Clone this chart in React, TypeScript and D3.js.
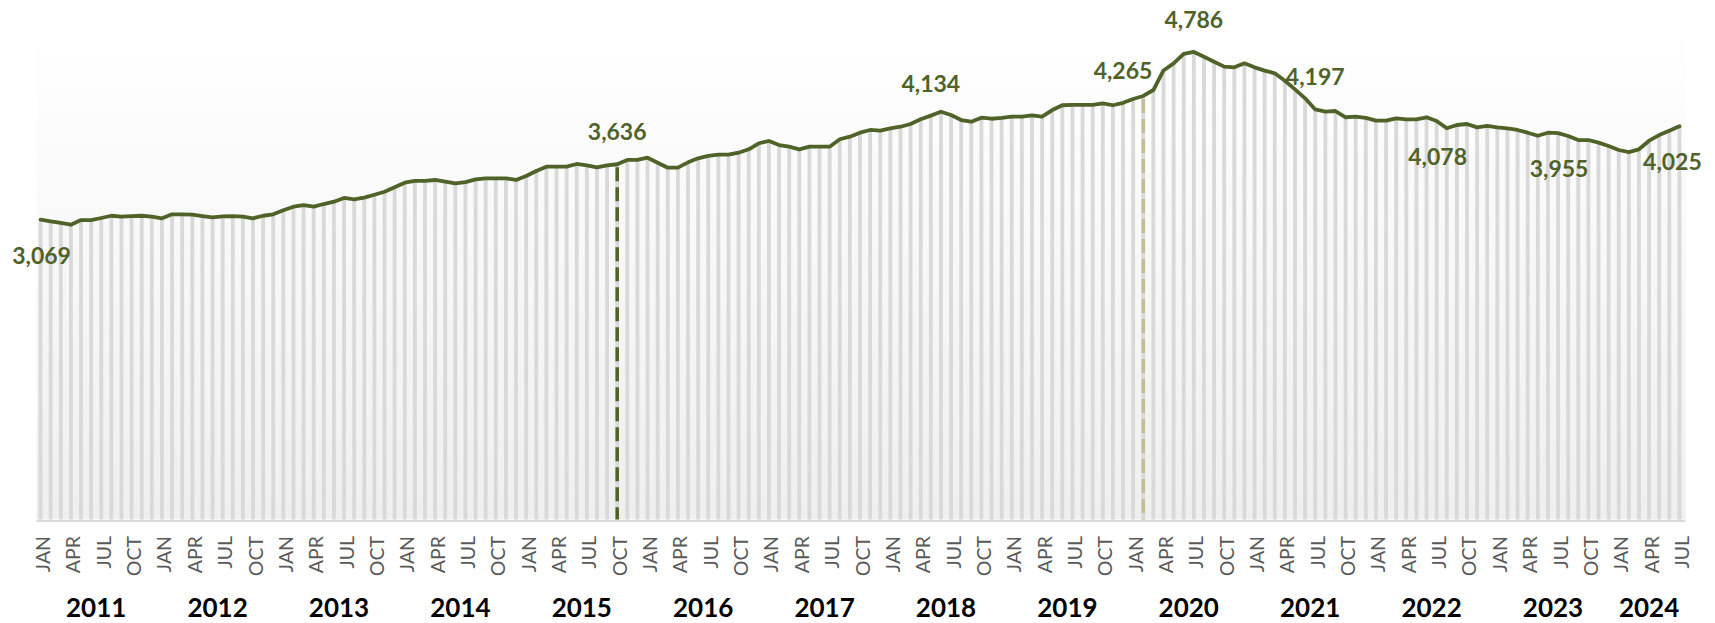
import React from "react";
import * as d3 from "d3";

// ---- Data (monthly, JAN 2011 .. JUL 2024) ----
const years = [2011, 2012, 2013, 2014, 2015, 2016, 2017, 2018, 2019, 2020, 2021, 2022, 2023, 2024];
const monthNames = ["JAN", "FEB", "MAR", "APR", "MAY", "JUN", "JUL", "AUG", "SEP", "OCT", "NOV", "DEC"];
const tickMonths = ["JAN", "APR", "JUL", "OCT"];

const values2011 = [3069, 3052, 3035, 3017, 3065, 3065, 3086, 3109, 3099, 3106, 3109, 3099];
const values2012 = [3083, 3124, 3124, 3120, 3106, 3093, 3103, 3106, 3099, 3083, 3109, 3124];
const values2013 = [3165, 3202, 3219, 3202, 3229, 3253, 3291, 3277, 3294, 3324, 3355, 3400];
const values2014 = [3447, 3465, 3465, 3475, 3458, 3441, 3454, 3482, 3492, 3492, 3492, 3475];
const values2015 = [3516, 3567, 3611, 3611, 3611, 3639, 3625, 3605, 3625, 3636, 3680, 3680];
const values2016 = [3703, 3652, 3601, 3601, 3656, 3697, 3721, 3734, 3734, 3754, 3789, 3851];
const values2017 = [3874, 3833, 3816, 3789, 3816, 3816, 3816, 3892, 3918, 3959, 3987, 3980];
const values2018 = [4004, 4020, 4048, 4096, 4134, 4174, 4140, 4089, 4072, 4113, 4102, 4110];
const values2019 = [4123, 4123, 4137, 4123, 4191, 4240, 4243, 4243, 4243, 4260, 4240, 4265];
const values2020 = [4304, 4335, 4396, 4596, 4669, 4765, 4786, 4737, 4686, 4635, 4628, 4669];
const values2021 = [4628, 4594, 4567, 4491, 4403, 4311, 4197, 4174, 4181, 4117, 4123, 4110];
const values2022 = [4082, 4082, 4106, 4096, 4096, 4117, 4078, 4004, 4038, 4048, 4014, 4028];
const values2023 = [4014, 4004, 3987, 3959, 3928, 3959, 3955, 3925, 3884, 3884, 3857, 3823];
const values2024 = [3782, 3761, 3789, 3877, 3935, 3980, 4025];

const values = [
  ...values2011, ...values2012, ...values2013, ...values2014, ...values2015,
  ...values2016, ...values2017, ...values2018, ...values2019, ...values2020,
  ...values2021, ...values2022, ...values2023, ...values2024,
];

const categories = values.map((_, i) => ({
  year: years[Math.floor(i / 12)],
  month: monthNames[i % 12],
}));

// labelled points: above the line / below the line
const labelsAbove = [57, 88, 107, 114, 126];
const labelsBelow = [0, 138, 150, 162];
// reference dashed markers
const markerGreen = 57; // OCT 2015
const markerTan = 109; // FEB 2020

const yMax = 5000;

export default function App() {
  const W = 1715;
  const H = 623;
  const plotLeft = 35.5;
  const plotRight = 1684.5;
  const plotTop = 31;
  const plotBottom = 519.5;

  const x = d3
    .scaleBand<number>()
    .domain(d3.range(values.length))
    .range([plotLeft, plotRight])
    .paddingInner(0.62)
    .paddingOuter(0.31);
  const bw = x.bandwidth();
  const cx = (i: number) => (x(i) as number) + bw / 2;
  const y = d3.scaleLinear().domain([0, yMax]).range([plotBottom, plotTop]);

  const line = d3
    .line<number>()
    .x((_, i) => cx(i))
    .y((v) => y(v))
    .curve(d3.curveLinear);

  const fmt = d3.format(",");
  const green = "#4f6228";
  const tan = "#c4bd97";
  const font = "Lato, 'Open Sans', sans-serif";

  return (
    <svg
      width={W}
      height={H}
      style={{ position: "absolute", left: 0, top: 0, display: "block", background: "#fff" }}
    >
      <defs>
        <linearGradient id="bg" x1="0" y1="0" x2="0" y2="1">
          <stop offset="0%" stopColor="#ffffff" />
          <stop offset="100%" stopColor="#efefef" />
        </linearGradient>
      </defs>
      <rect
        x={plotLeft + 1}
        y={plotTop}
        width={plotRight - plotLeft}
        height={plotBottom - plotTop}
        fill="url(#bg)"
      />
      {/* bars */}
      <g fill="#d9d9d9">
        {values.map((v, i) => (
          <rect key={i} x={x(i)} y={y(v)} width={bw} height={plotBottom - y(v)} />
        ))}
      </g>
      {/* axis line */}
      <line x1={plotLeft + 1} x2={plotRight + 1} y1={521} y2={521} stroke="#d9d9d9" strokeWidth={2} />
      {/* dashed markers */}
      <line
        x1={cx(markerGreen)}
        x2={cx(markerGreen)}
        y1={y(values[markerGreen]) + 3}
        y2={plotBottom}
        stroke={green}
        strokeWidth={3.5}
        strokeDasharray="14 6"
      />
      <line
        x1={cx(markerTan)}
        x2={cx(markerTan)}
        y1={y(values[markerTan]) + 3}
        y2={plotBottom}
        stroke={tan}
        strokeWidth={3.5}
        strokeDasharray="14 6"
      />
      {/* line */}
      <path
        d={line(values) || ""}
        fill="none"
        stroke={green}
        strokeWidth={3.8}
        strokeLinejoin="round"
        strokeLinecap="round"
      />
      {/* data labels */}
      <g fontFamily={font} fontWeight={700} fontSize={23} fill={green} textAnchor="middle">
        {labelsAbove.map((i) => (
          <text key={"a" + i} x={cx(i)} y={y(values[i]) - 24}>
            {fmt(values[i])}
          </text>
        ))}
        {labelsBelow.map((i) => (
          <text
            key={"b" + i}
            x={cx(i) + (i === values.length - 1 ? -7 : 1)}
            y={y(values[i]) + 44}
          >
            {fmt(values[i])}
          </text>
        ))}
      </g>
      {/* month ticks */}
      <g fontFamily={font} fontSize={19.5} fill="#595959">
        {categories.map((c, i) =>
          tickMonths.includes(c.month) ? (
            <text
              key={"m" + i}
              transform={`translate(${cx(i) + 2},536) rotate(-90)`}
              textAnchor="end"
              dominantBaseline="central"
            >
              {c.month}
            </text>
          ) : null
        )}
      </g>
      {/* years */}
      <g fontFamily={font} fontWeight={700} fontSize={26} fill="#000" textAnchor="middle">
        {years.map((yr) => {
          const idx = categories.map((c, i) => (c.year === yr ? i : -1)).filter((i) => i >= 0);
          const mid = (cx(idx[0]) + cx(idx[idx.length - 1])) / 2;
          return (
            <text key={yr} x={mid} y={616.5}>
              {yr}
            </text>
          );
        })}
      </g>
    </svg>
  );
}
